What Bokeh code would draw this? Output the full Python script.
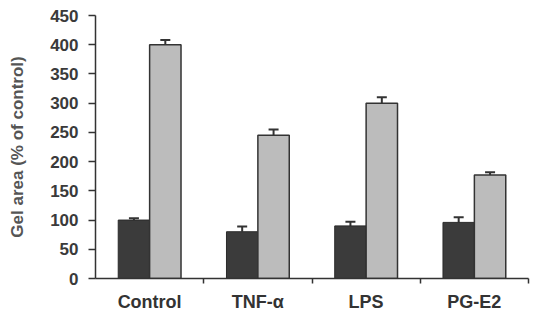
from bokeh.plotting import figure
from bokeh.models import Range1d, FixedTicker, ColumnDataSource, Whisker, TeeHead
from bokeh.embed import file_html
from bokeh.resources import INLINE

categories = ["Control", "TNF-\u03b1", "LPS", "PG-E2"]
series_a = [100, 80, 90, 96]
series_a_err = [3, 9, 7, 9]
series_b = [400, 245, 300, 177]
series_b_err = [8, 10, 10, 5]
y_ticks = [0, 50, 100, 150, 200, 250, 300, 350, 400, 450]

centers = [i + 0.5 for i in range(len(categories))]
xa = [c - 0.145 for c in centers]
xb = [c + 0.145 for c in centers]

p = figure(frame_width=433, frame_height=263, output_backend="svg", toolbar_location=None,
           title=None,
           x_range=Range1d(0, 4), y_range=Range1d(0, 450),
           min_border_left=95, min_border_top=15, min_border_right=6, min_border_bottom=34)
p.outline_line_color = None
p.grid.visible = False
p.background_fill_color = "white"
p.border_fill_color = "white"

src_a = ColumnDataSource(dict(x=xa, top=series_a, up=[v + e for v, e in zip(series_a, series_a_err)]))
src_b = ColumnDataSource(dict(x=xb, top=series_b, up=[v + e for v, e in zip(series_b, series_b_err)]))

p.vbar(x="x", top="top", width=0.29, source=src_a, fill_color="#3b3b3b", line_color="#2a2a2a", line_width=1)
p.vbar(x="x", top="top", width=0.29, source=src_b, fill_color="#bcbcbc", line_color="#333333", line_width=1.5)

for src in (src_a, src_b):
    w = Whisker(base="x", lower="top", upper="up", source=src, line_color="#333333", line_width=2,
                upper_head=TeeHead(size=10, line_color="#333333", line_width=2), lower_head=None)
    p.add_layout(w)

# y axis
p.yaxis.ticker = FixedTicker(ticks=y_ticks)
p.yaxis.axis_label = "Gel area (% of control)"
p.yaxis.axis_label_text_font = "Liberation Sans"
p.yaxis.axis_label_text_font_style = "bold"
p.yaxis.axis_label_text_font_size = "17px"
p.yaxis.axis_label_text_color = "#555555"
p.yaxis.axis_label_standoff = 20
p.yaxis.major_label_text_font = "Liberation Sans"
p.yaxis.major_label_text_font_style = "bold"
p.yaxis.major_label_text_font_size = "17px"
p.yaxis.major_label_text_color = "#3a3a3a"
p.yaxis.major_label_standoff = 10
p.yaxis.major_tick_out = 7
p.yaxis.major_tick_in = 0
p.yaxis.minor_tick_line_color = None
p.yaxis.axis_line_color = "#333333"
p.yaxis.axis_line_width = 1.5
p.yaxis.major_tick_line_color = "#333333"
p.yaxis.major_tick_line_width = 1.5

# x axis
p.xaxis.ticker = FixedTicker(ticks=centers, minor_ticks=[1, 2, 3, 4])
p.xaxis.major_label_overrides = {c: lab for c, lab in zip(centers, categories)}
p.xaxis.major_tick_line_color = None
p.xaxis.major_tick_out = 0
p.xaxis.major_tick_in = 0
p.xaxis.minor_tick_out = 5
p.xaxis.minor_tick_in = 0
p.xaxis.minor_tick_line_color = "#333333"
p.xaxis.minor_tick_line_width = 1.5
p.xaxis.axis_line_color = "#333333"
p.xaxis.axis_line_width = 1.5
p.xaxis.major_label_text_font = "Liberation Sans"
p.xaxis.major_label_text_font_style = "bold"
p.xaxis.major_label_text_font_size = "18px"
p.xaxis.major_label_text_color = "#333333"
p.xaxis.major_label_standoff = 8

open("out.html", "w").write(file_html(p, INLINE))
